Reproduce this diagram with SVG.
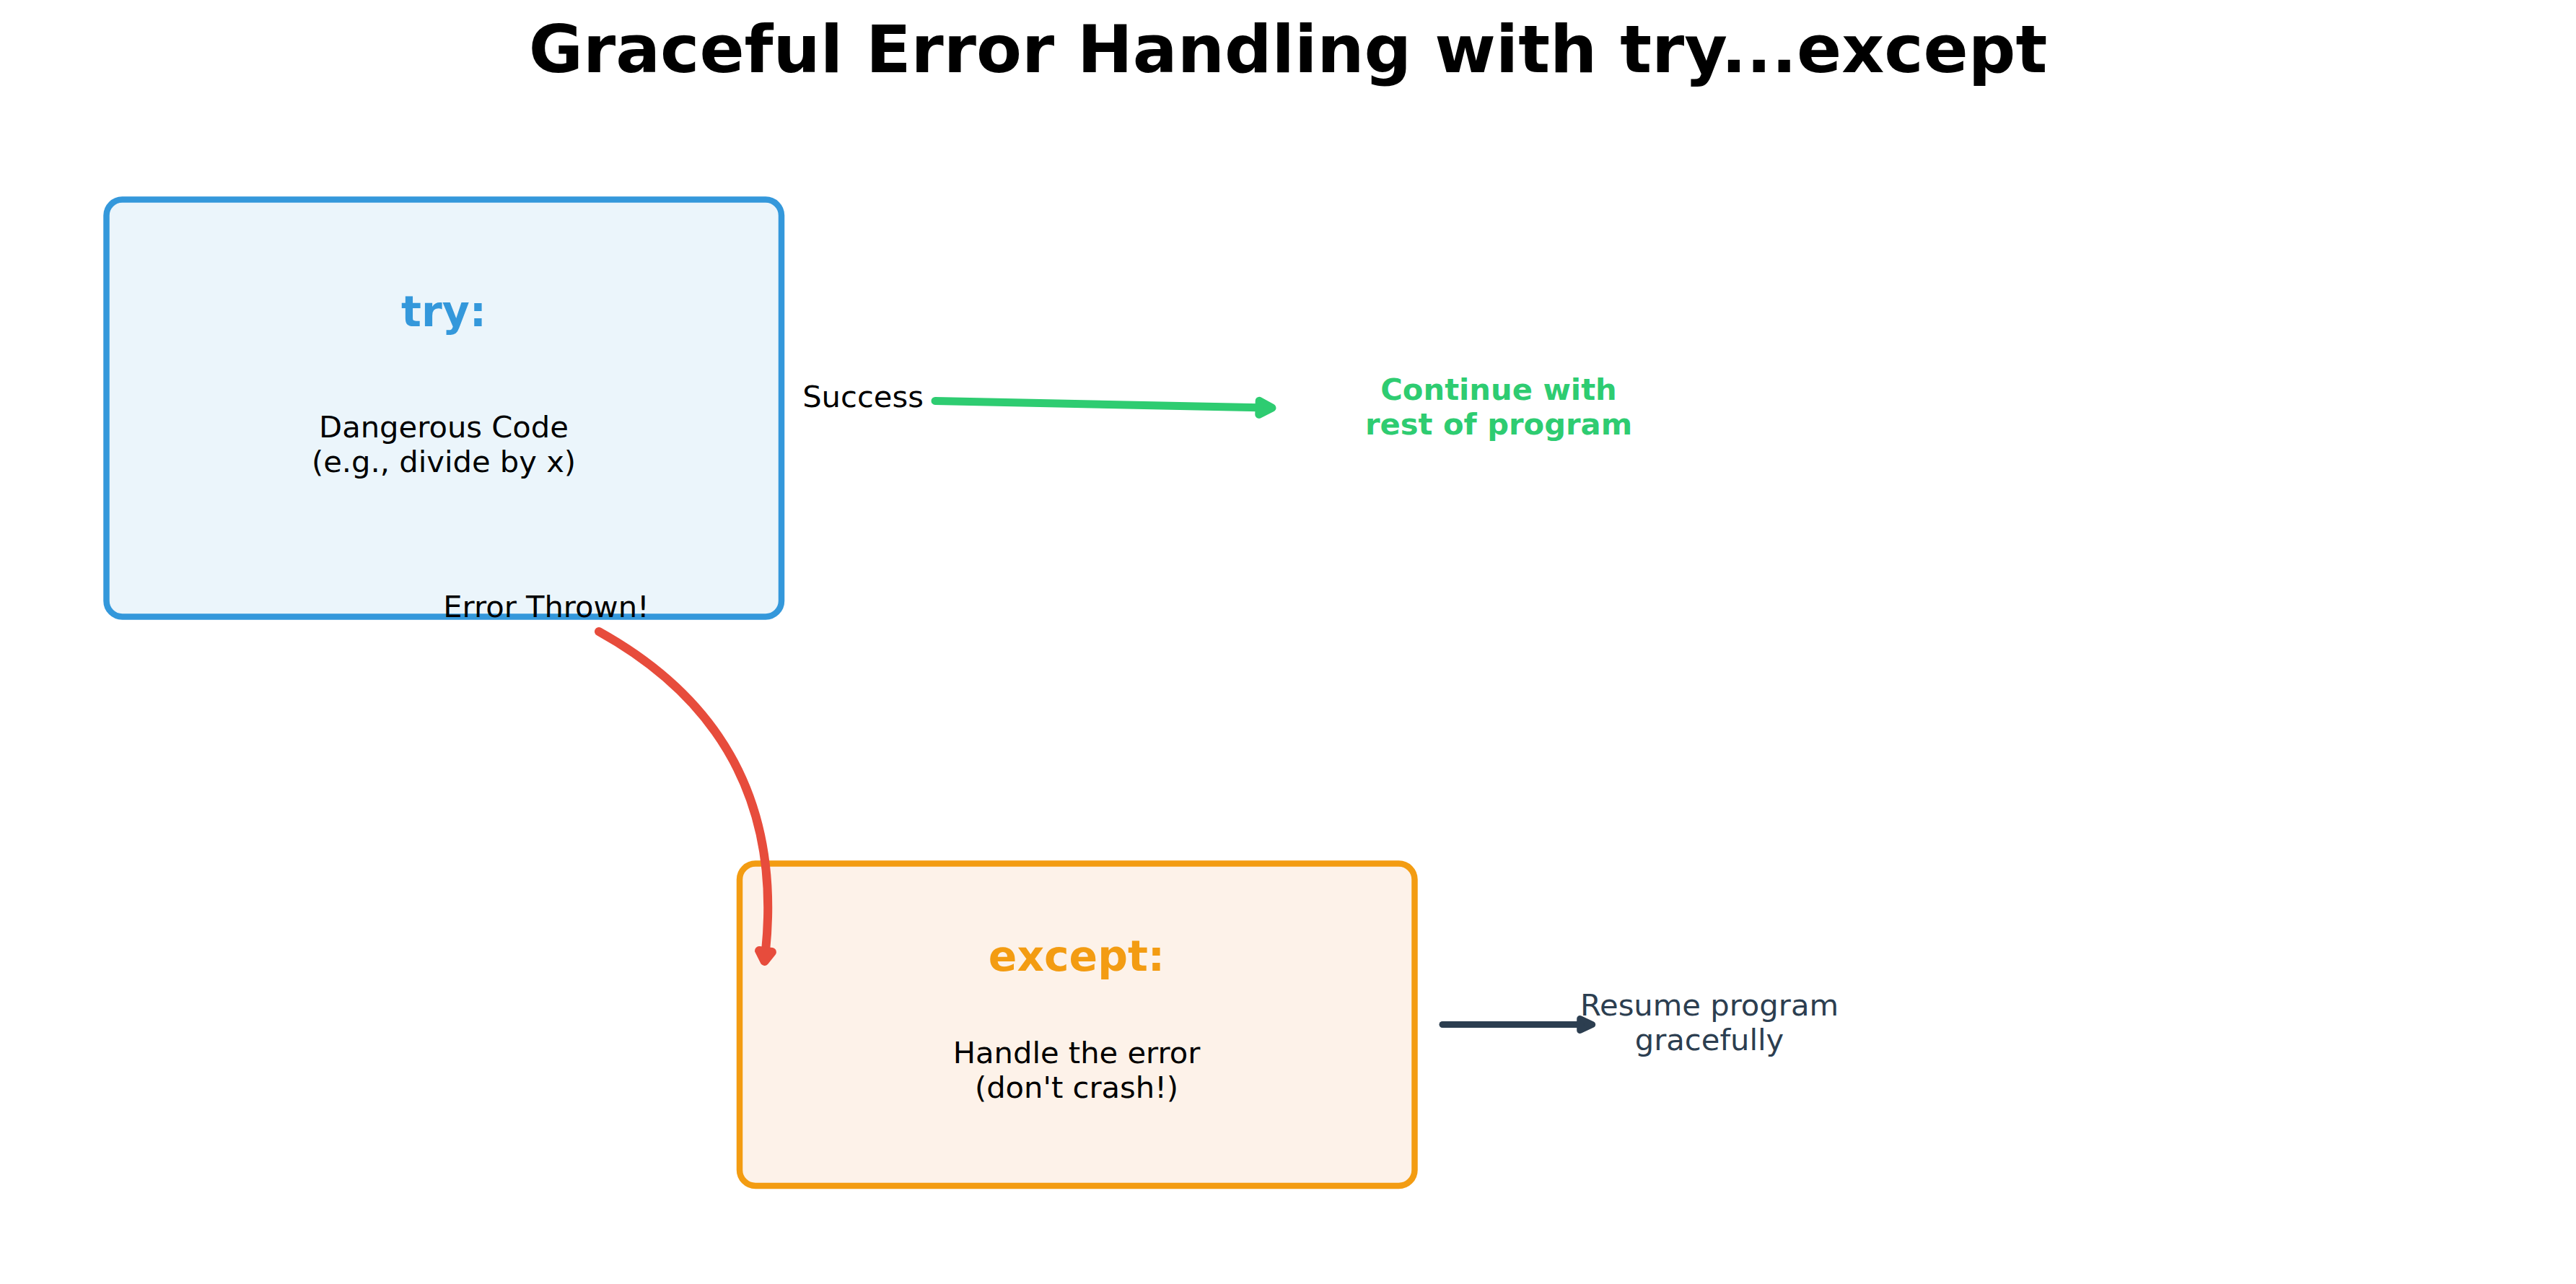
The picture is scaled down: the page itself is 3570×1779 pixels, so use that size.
<svg xmlns="http://www.w3.org/2000/svg" width="3570" height="1779" viewBox="0 0 3570 1779">
  <style>
    text { font-family: "DejaVu Sans", "Liberation Sans", sans-serif; text-anchor: middle; }
    .title { font-size: 91.67px; font-weight: bold; fill: #000000; }
    .head { font-size: 58.33px; font-weight: bold; }
    .body { font-size: 41.67px; fill: #000000; }
    .box { stroke-width: 8.5; }
    .conn { fill: none; stroke-linecap: round; }
  </style>
  <defs>
    <marker id="ah-green" markerUnits="userSpaceOnUse" orient="auto" refX="0" refY="0" markerWidth="60" markerHeight="60" overflow="visible">
      <path d="M 0 -9.5 L 18 0 L 0 9.5 Z" fill="#2ecc71" stroke="#2ecc71" stroke-width="11" stroke-linejoin="round"/>
    </marker>
    <marker id="ah-red" markerUnits="userSpaceOnUse" orient="auto" refX="0" refY="0" markerWidth="60" markerHeight="60" overflow="visible">
      <path d="M 0 -9 L 14 0 L 0 9 Z" fill="#e74c3c" stroke="#e74c3c" stroke-width="12" stroke-linejoin="round"/>
    </marker>
    <marker id="ah-dark" markerUnits="userSpaceOnUse" orient="auto" refX="0" refY="0" markerWidth="60" markerHeight="60" overflow="visible">
      <path d="M 0 -8 L 17 0 L 0 8 Z" fill="#2c3e50" stroke="#2c3e50" stroke-width="9" stroke-linejoin="round"/>
    </marker>
  </defs>

  <rect width="3570" height="1779" fill="#ffffff"/>

  <text class="title" x="1785" y="100">Graceful Error Handling with try...except</text>

  <g id="try-node">
    <rect class="box" x="147.5" y="276.5" width="935.5" height="578" rx="22" ry="22" fill="#ebf5fb" stroke="#3498db"/>
    <text class="head" x="615" y="452" fill="#3498db">try:</text>
    <text class="body" x="615" y="606">Dangerous Code</text>
    <text class="body" x="615" y="654">(e.g., divide by x)</text>
  </g>

  <g id="except-node">
    <rect class="box" x="1025" y="1196.5" width="935.5" height="446.5" rx="22" ry="22" fill="#fdf2e9" stroke="#f39c12"/>
    <text class="head" x="1492" y="1345" fill="#f39c12">except:</text>
    <text class="body" x="1492" y="1473">Handle the error</text>
    <text class="body" x="1492" y="1521">(don't crash!)</text>
  </g>

  <g id="continue-node">
    <text class="body" x="2077" y="554" style="font-weight:bold; fill:#2ecc71">Continue with</text>
    <text class="body" x="2077" y="602" style="font-weight:bold; fill:#2ecc71">rest of program</text>
  </g>

  <g id="resume-node">
    <text class="body" x="2369" y="1407" style="fill:#2c3e50">Resume program</text>
    <text class="body" x="2369" y="1455" style="fill:#2c3e50">gracefully</text>
  </g>

  <g id="connectors">
    <path class="conn" d="M 1296 555.5 L 1745 564.8" stroke="#2ecc71" stroke-width="11" marker-end="url(#ah-green)"/>
    <path class="conn" d="M 830 875 Q 1091.7 1020.3 1061 1318" stroke="#e74c3c" stroke-width="12" marker-end="url(#ah-red)"/>
    <path class="conn" d="M 1999 1419.5 L 2189.7 1419.5" stroke="#2c3e50" stroke-width="9" marker-end="url(#ah-dark)"/>
  </g>

  <g id="connector-labels">
    <text class="body" x="1196" y="564">Success</text>
    <text class="body" x="757" y="855">Error Thrown!</text>
  </g>
</svg>
